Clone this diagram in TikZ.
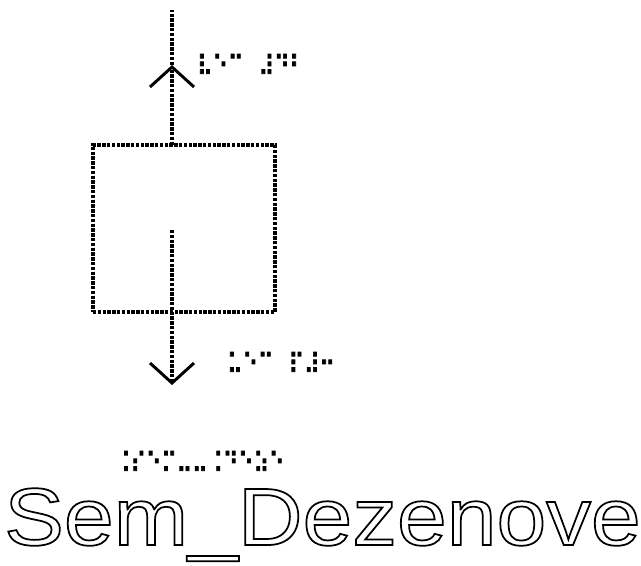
\documentclass[tikz,border=0pt]{standalone}
\usepackage{fontspec}
\setmainfont{Liberation Sans}
\newfontfamily\braillefont[FakeStretch=0.75, FakeBold=2.5]{DejaVu Sans}
\newfontfamily\namefont[FakeStretch=1.1]{Liberation Sans}
\usetikzlibrary{arrows.meta, positioning, calc}
\definecolor{ink}{HTML}{000000}
\newcommand{\outlinetext}[1]{\special{pdf:code 1 Tr 1.3 w}#1\special{pdf:code 0 Tr}}
\tikzset{
  emboss/.style  = {draw=ink, line width=2.8pt, dash pattern=on 2.6pt off 1pt},
  tankbox/.style = {emboss, rectangle, minimum width=136.5pt, minimum height=125.25pt,
                    inner sep=0pt, outer sep=0pt},
  flow/.style    = {emboss, -{Straight Barb[length=15pt, width=33pt, line width=2.2pt]}},
  brl/.style     = {font=\braillefont\fontsize{21}{21}\selectfont, anchor=west,
                    inner sep=0pt, text=ink},
  title/.style   = {font=\namefont\fontsize{61}{61}\selectfont, anchor=base west, inner sep=0pt},
}

\begin{document}
\begin{tikzpicture}[x=0.75pt, y=-0.75pt]
  \useasboundingbox (0,0) rectangle (641,565);

  % tank and its flows
  \node[tankbox] (tank) at (184,228.5) {};
  \coordinate (topend) at (172,10);
  \coordinate (uptip) at (172,65);
  \coordinate (inner) at (172,230);
  \coordinate (downtip) at (172,385);
  \draw[flow] (tank.north -| inner) -- (uptip);
  \draw[emboss] (uptip) -- (topend);
  \draw[flow] (inner) -- (downtip);

  % braille labels
  \node[brl] (outlbl) at (197,65) {⠧⠑⠉⠀⠼⠙⠃};
  \node[brl] (inlbl) at (227,363) {⠥⠑⠉⠀⠏⠼⠒};
  \node[brl] (namebrl) at (115,462) {⠨⠎⠑⠍⠤⠤⠨⠙⠑⠵⠑};

  % print name
  \node[title] (name) at (4,545) {\outlinetext{Sem\_Dezenove}};
\end{tikzpicture}
\end{document}
